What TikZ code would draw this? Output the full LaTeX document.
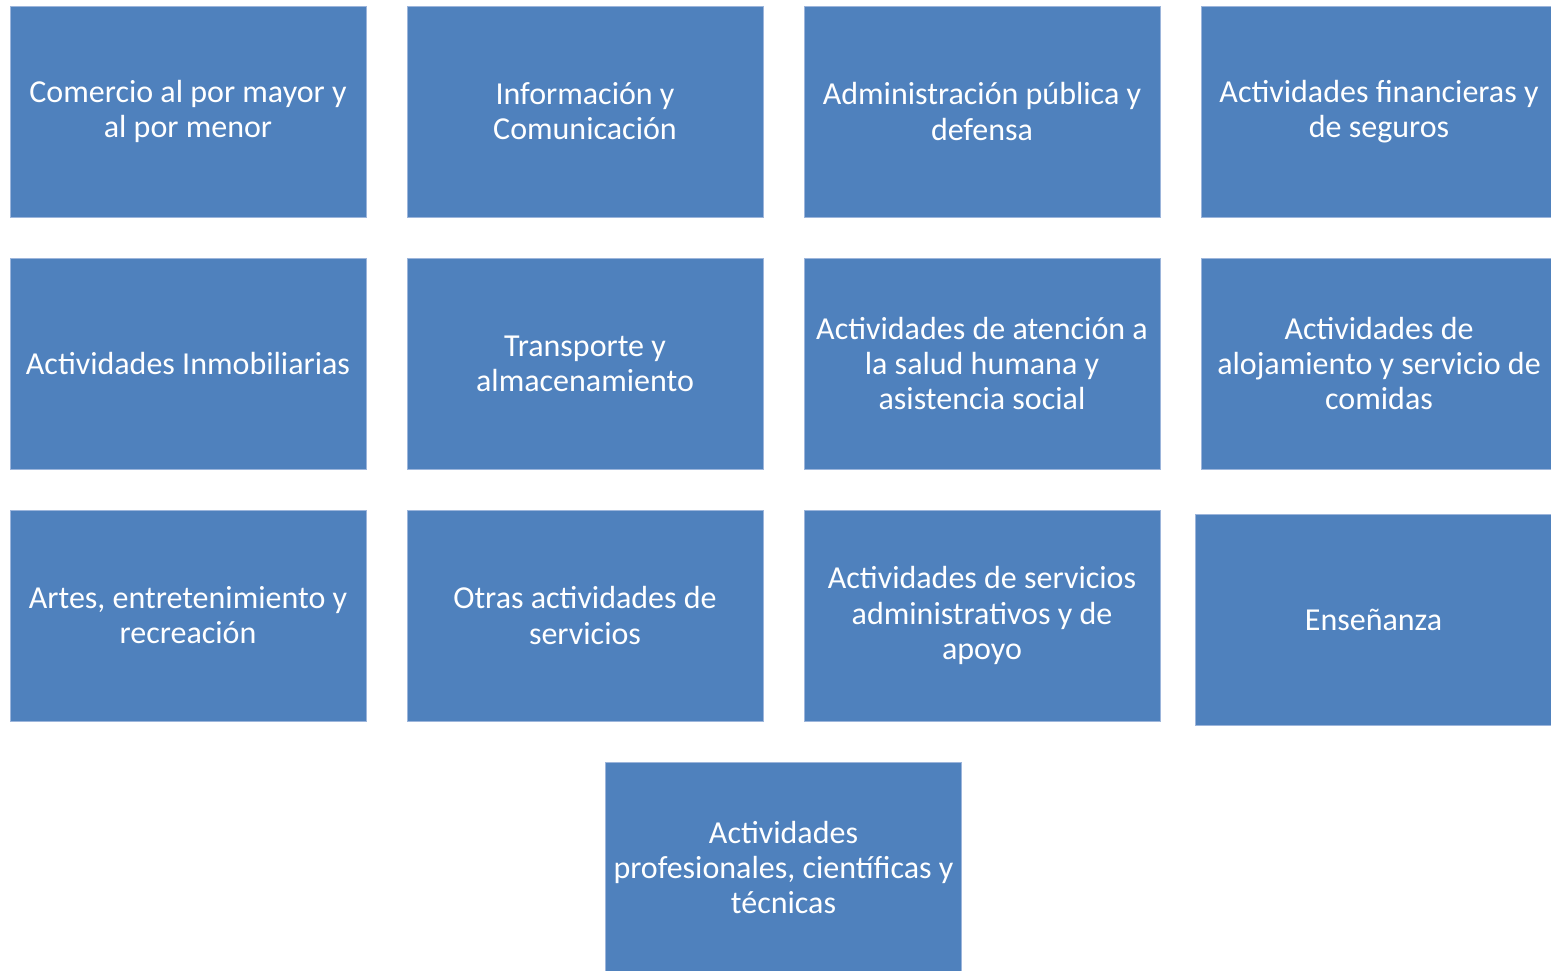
\documentclass[tikz,border=0pt]{standalone}
\usepackage{fontspec}
\setmainfont{Carlito}
\usetikzlibrary{positioning,calc}
\definecolor{boxblue}{HTML}{4F81BD}
\definecolor{boxedge}{HTML}{9CB5DB}
\begin{document}
\begin{tikzpicture}[node distance=30.75pt and 30.75pt,
    box/.style={rectangle, fill=boxblue, draw=boxedge, line width=0.6pt,
      text=white, align=center, inner sep=0pt, outer sep=0pt,
      minimum width=267pt, minimum height=158.25pt,
      font=\fontsize{24}{26.4}\selectfont}]
    \useasboundingbox (0,0) rectangle (1163.25pt,-727.5pt);
    \clip (0,0) rectangle (1163.25pt,-727.5pt);
    \node [box] (A) at (141pt,-83.6pt) {Comercio al por mayor y\\al por menor};
    \node [box] [right=of A] (B) {Información y\\Comunicación};
    \node [box] [right=of B] (C) {Administración pública y\\defensa};
    \node [box] [right=of C] (D) {Actividades financieras y\\de seguros};
    \node [box] [below=of A] (E) {Actividades Inmobiliarias};
    \node [box] [right=of E] (F) {Transporte y\\almacenamiento};
    \node [box] [right=of F] (G) {Actividades de atención a\\la salud humana y\\asistencia social};
    \node [box] [right=of G] (H) {Actividades de\\alojamiento y servicio de\\comidas};
    \node [box] [below=of E] (I) {Artes, entretenimiento y\\recreación};
    \node [box] [right=of I] (J) {Otras actividades de\\servicios};
    \node [box] [right=of J] (K) {Actividades de servicios\\administrativos y de\\apoyo};
    \node [box] [right=of K, xshift=-4.1pt, yshift=-3.4pt] (L) {Enseñanza};
    \coordinate (JK) at ($(J.south)!0.5!(K.south)$);
    \node [box] [below=of JK] (M) {Actividades\\profesionales, científicas y\\técnicas};
\end{tikzpicture}
\end{document}
